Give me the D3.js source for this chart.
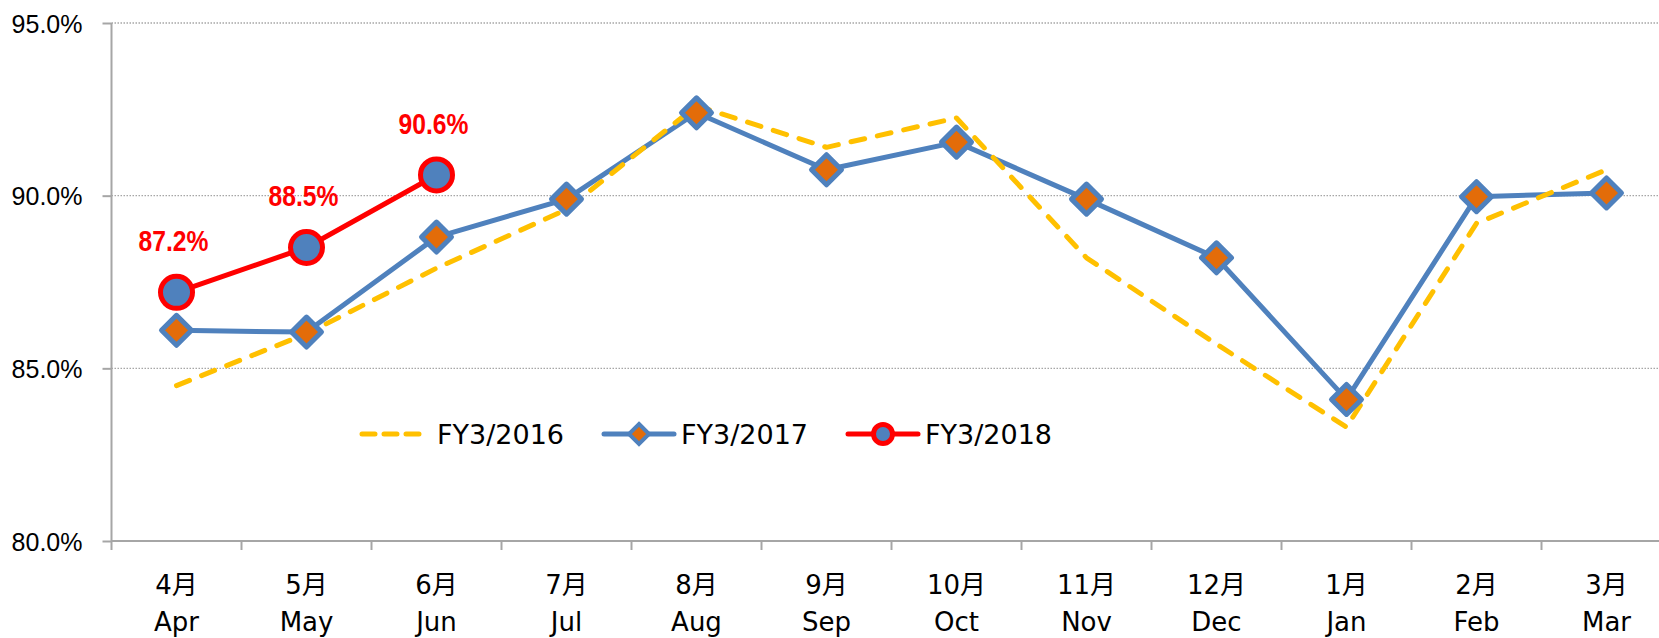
<!DOCTYPE html>
<meta charset="utf-8">
<style>
body { margin: 0; background: #fff; }
svg { display: block; overflow: hidden; }
.ylab { font: 25px "Liberation Sans", Arial, sans-serif; fill: #000; text-anchor: end; }
.xlab { font: 26px "DejaVu Sans", "Noto Sans CJK JP", sans-serif; fill: #000; text-anchor: middle; }
.leg text { font: 27px "DejaVu Sans", sans-serif; fill: #000; }
.dlab { font: bold 29px "Liberation Sans", Arial, sans-serif; fill: #ff0000; text-anchor: middle; }
</style>
<svg width="1659" height="638"></svg>
<script src="https://d3js.org/d3.v7.min.js"></script>
<script>

var monthsJa = ["4月", "5月", "6月", "7月", "8月", "9月", "10月", "11月", "12月", "1月", "2月", "3月"];
var monthsEn = ["Apr", "May", "Jun", "Jul", "Aug", "Sep", "Oct", "Nov", "Dec", "Jan", "Feb", "Mar"];
var yTicks = [80, 85, 90, 95];

var fy2016 = [84.5, 86.0, 87.9, 89.6, 92.6, 91.4, 92.25, 88.2, 85.7, 83.3, 89.2, 90.75];
var fy2017 = [86.1, 86.05, 88.8, 89.9, 92.4, 90.75, 91.55, 89.9, 88.2, 84.1, 89.97, 90.08];
var fy2018 = [87.2, 88.5, 90.6];

var seriesNames = ["FY3/2016", "FY3/2017", "FY3/2018"];

var blue = "#4f81bd", orange = "#e36c09", yellow = "#ffc000", red = "#ff0000";

let svg = d3.select("svg");
let plotLeft = 111.5, plotTop = 23, plotBottom = 541;

let x = d3.scaleBand().domain(monthsEn).range([plotLeft, plotLeft + 130 * 12]);
let y = d3.scaleLinear().domain([80, 95]).range([plotBottom, plotTop]);
let cx = function(i) { return x(monthsEn[i]) + x.bandwidth() / 2; };

// grid lines
svg.append("g").selectAll("line")
	.data(yTicks.filter(function(d) { return d > 80; }))
	.enter().append("line")
	.attr("x1", plotLeft).attr("x2", 1659)
	.attr("y1", function(d) { return y(d); })
	.attr("y2", function(d) { return y(d); })
	.attr("stroke", "#a6a6a6")
	.attr("stroke-width", 1.3)
	.attr("stroke-dasharray", "1.5 1.5");

// y axis
let yAxis = svg.append("g")
	.attr("transform", "translate(" + plotLeft + ",0)")
	.call(d3.axisLeft(y).tickValues(yTicks).tickSize(9).tickFormat(function(d) { return d3.format(".1f")(d) + "%"; }));
yAxis.attr("font-family", null).attr("font-size", null);
yAxis.select(".domain").attr("stroke", "#a6a6a6").attr("stroke-width", 2).attr("d", "M0," + plotTop + "V" + (plotBottom + 9));
yAxis.selectAll(".tick line").attr("stroke", "#a6a6a6").attr("stroke-width", 2);
yAxis.selectAll(".tick text").attr("class", "ylab").attr("x", -29).attr("dy", null).attr("y", 9);

// x axis
let xAxis = svg.append("g")
	.attr("transform", "translate(0," + plotBottom + ")")
	.call(d3.axisBottom(x).tickSize(0).tickFormat(""));
xAxis.select(".domain").attr("stroke", "#a6a6a6").attr("stroke-width", 2).attr("d", "M" + plotLeft + ",0H1659");
xAxis.selectAll(".tick").remove();
xAxis.selectAll(".bnd")
	.data(monthsEn.slice(1))
	.enter().append("line")
	.attr("x1", function(d) { return x(d); })
	.attr("x2", function(d) { return x(d); })
	.attr("y1", 0).attr("y2", 9)
	.attr("stroke", "#a6a6a6").attr("stroke-width", 2);

let xl = svg.append("g").selectAll("g")
	.data(monthsEn)
	.enter().append("g")
	.attr("transform", function(d, i) { return "translate(" + cx(i) + ",0)"; });
xl.append("text").attr("class", "xlab").attr("y", 594).text(function(d, i) { return monthsJa[i]; });
xl.append("text").attr("class", "xlab").attr("y", 631).text(function(d) { return d; });

let line = d3.line()
	.x(function(d, i) { return cx(i); })
	.y(function(d) { return y(d); });

svg.append("path").datum(fy2017)
	.attr("d", line).attr("fill", "none")
	.attr("stroke", blue).attr("stroke-width", 5).attr("stroke-linejoin", "round");

svg.append("path").datum(fy2016)
	.attr("d", line).attr("fill", "none")
	.attr("stroke", yellow).attr("stroke-width", 5)
	.attr("stroke-linecap", "round").attr("stroke-linejoin", "round")
	.attr("stroke-dasharray", "14 13");

svg.append("path").datum(fy2018)
	.attr("d", line).attr("fill", "none")
	.attr("stroke", red).attr("stroke-width", 5).attr("stroke-linejoin", "round");

function diamond(s) {
	return "M0," + (-s) + "L" + s + ",0L0," + s + "L" + (-s) + ",0Z";
}

svg.append("g").selectAll("path")
	.data(fy2017)
	.enter().append("path")
	.attr("transform", function(d, i) { return "translate(" + cx(i) + "," + y(d) + ")"; })
	.attr("d", diamond(15))
	.attr("fill", orange).attr("stroke", blue).attr("stroke-width", 5).attr("stroke-linejoin", "round");

svg.append("g").selectAll("circle")
	.data(fy2018)
	.enter().append("circle")
	.attr("cx", function(d, i) { return cx(i); })
	.attr("cy", function(d) { return y(d); })
	.attr("r", 16)
	.attr("fill", blue).attr("stroke", red).attr("stroke-width", 5);

// data labels, squeezed to look like a narrow bold face
svg.append("g").selectAll("text")
	.data(fy2018)
	.enter().append("text")
	.attr("class", "dlab")
	.attr("transform", function(d, i) { return "translate(" + (cx(i) - 3) + "," + (y(d) - 41) + ") scale(0.85,1)"; })
	.text(function(d) { return d3.format(".1f")(d) + "%"; });

// legend
let leg = svg.append("g").attr("class", "leg").attr("transform", "translate(0,434)");
let legX = [360, 604, 848];
leg.append("line").attr("x1", legX[0] + 2).attr("x2", legX[0] + 66).attr("y1", 0).attr("y2", 0)
	.attr("stroke", yellow).attr("stroke-width", 5).attr("stroke-linecap", "round").attr("stroke-dasharray", "13 9");
leg.append("line").attr("x1", legX[1]).attr("x2", legX[1] + 70).attr("y1", 0).attr("y2", 0)
	.attr("stroke", blue).attr("stroke-width", 5).attr("stroke-linecap", "round");
leg.append("path").attr("transform", "translate(" + (legX[1] + 35) + ",0)").attr("d", diamond(10))
	.attr("fill", orange).attr("stroke", blue).attr("stroke-width", 4);
leg.append("line").attr("x1", legX[2]).attr("x2", legX[2] + 70).attr("y1", 0).attr("y2", 0)
	.attr("stroke", red).attr("stroke-width", 5).attr("stroke-linecap", "round");
leg.append("circle").attr("cx", legX[2] + 35).attr("cy", 0).attr("r", 9.5)
	.attr("fill", blue).attr("stroke", red).attr("stroke-width", 5);
leg.selectAll("text")
	.data(seriesNames)
	.enter().append("text")
	.attr("x", function(d, i) { return legX[i] + 77; })
	.attr("y", 10)
	.text(function(d) { return d; });

</script>
